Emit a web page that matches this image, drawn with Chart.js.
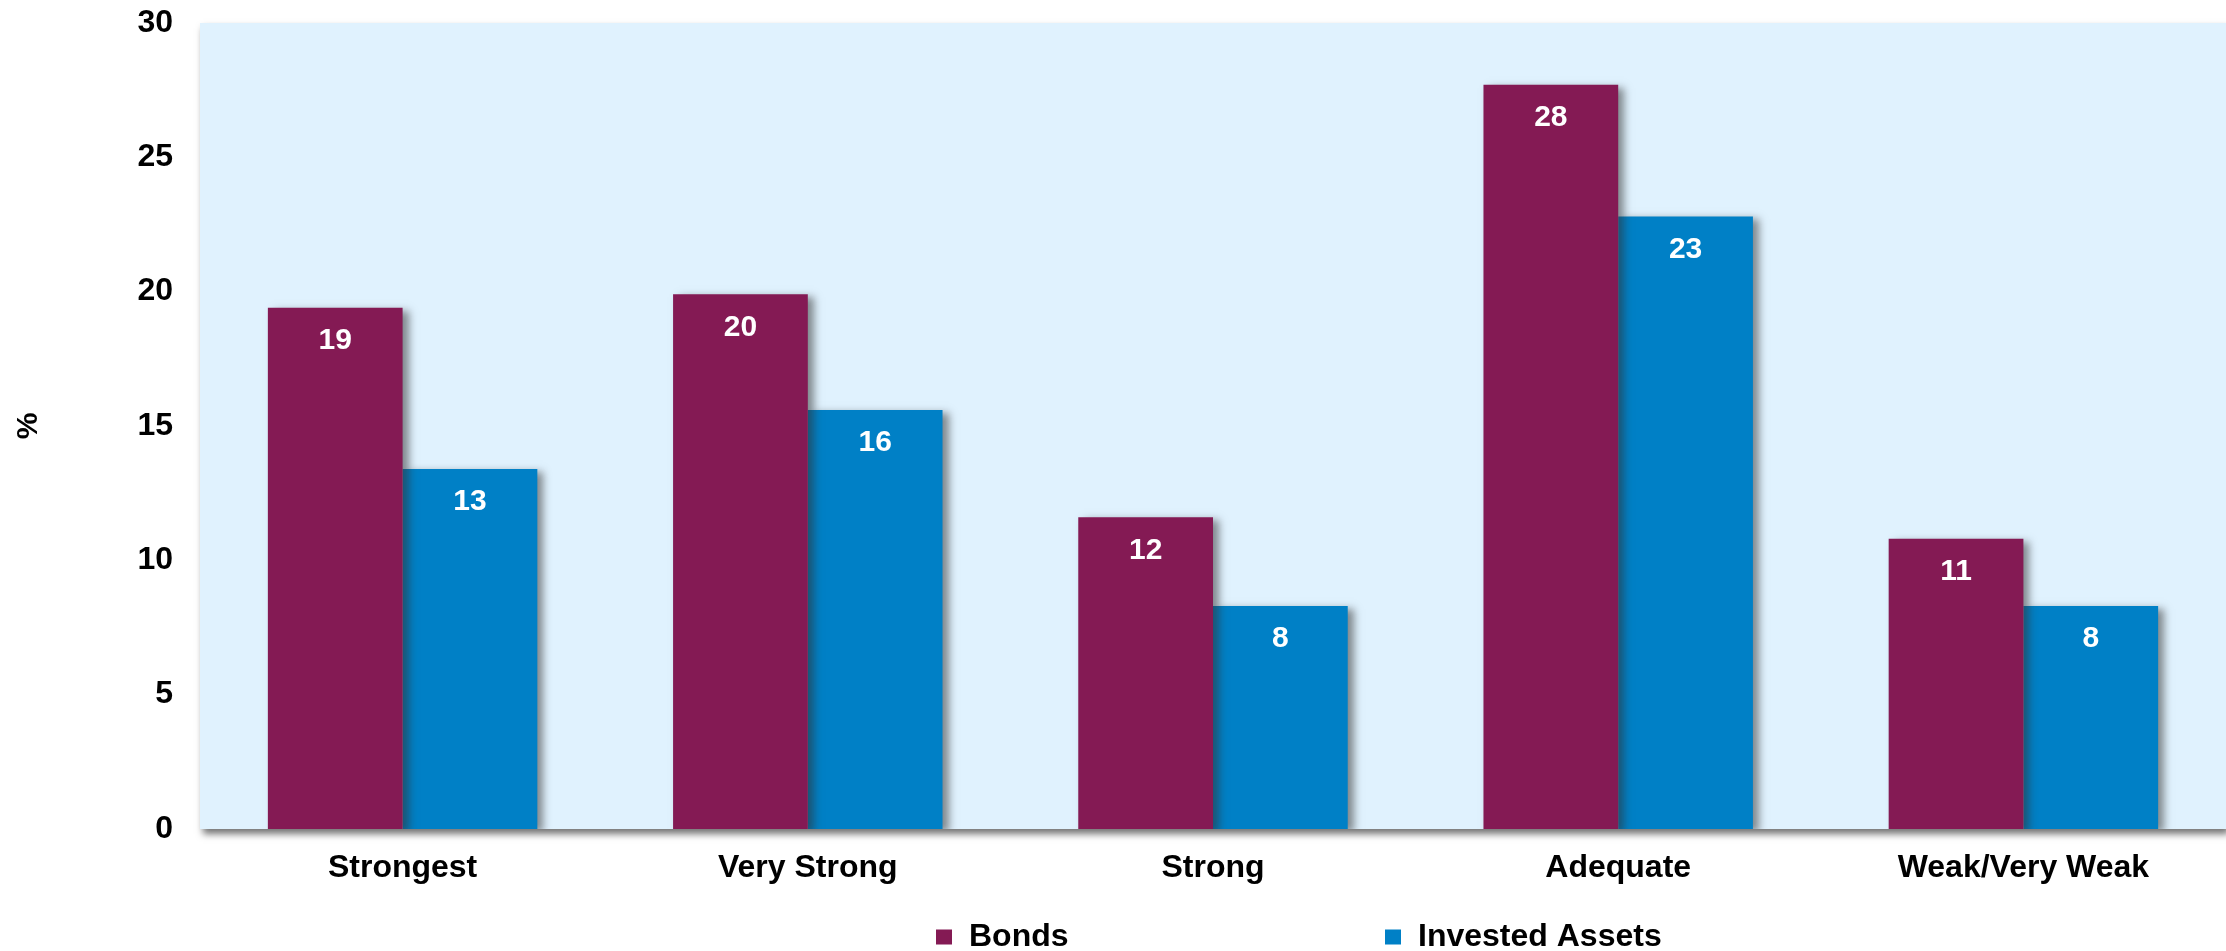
<!DOCTYPE html>
<html lang="en">
<head>
<meta charset="UTF-8">
<title>Bonds vs Invested Assets</title>
<script src="https://cdn.jsdelivr.net/npm/chart.js"></script>
<style>
    html, body { margin: 0; padding: 0; background: #fff; }
    #contenedor { width: 2226px; height: 951px; }
</style>
</head>
<body>
<div id="contenedor"><canvas id="grafico"></canvas></div>
<script>
    // datos
    const categorias = ['Strongest', 'Very Strong', 'Strong', 'Adequate', 'Weak/Very Weak'];
    const bonos = [19.4, 19.9, 11.6, 27.7, 10.8];
    const activos = [13.4, 15.6, 8.3, 22.8, 8.3];
    const ejeYMin = 0;
    const ejeYMax = 30;
    const ejeYPaso = 5;

    const colorBonos = '#841A54';
    const colorActivos = '#0080C6';

    Chart.defaults.font.family = '"Liberation Sans", Arial, sans-serif';
    Chart.defaults.font.weight = 'bold';
    Chart.defaults.color = '#000';

    // fondo celeste del area con sombra abajo
    const fondo = {
        id: 'fondo',
        beforeDraw(chart) {
            const { ctx, chartArea: a } = chart;
            ctx.save();
            ctx.shadowColor = 'rgba(0,0,0,0.55)';
            ctx.shadowOffsetX = 3;
            ctx.shadowOffsetY = 5;
            ctx.shadowBlur = 7;
            ctx.fillStyle = '#E0F2FE';
            ctx.fillRect(a.left, a.top, a.right - a.left, a.bottom - a.top);
            ctx.restore();
        }
    };

    // sombra de las barras + numeros blancos
    const sombraYValores = {
        id: 'sombraYValores',
        beforeDatasetsDraw(chart) {
            const ctx = chart.ctx;
            ctx.save();
            ctx.shadowColor = 'rgba(50,50,50,0.55)';
            ctx.shadowOffsetX = 6;
            ctx.shadowOffsetY = 3;
            ctx.shadowBlur = 8;
        },
        afterDatasetsDraw(chart) {
            const ctx = chart.ctx;
            ctx.restore();
            ctx.save();
            ctx.fillStyle = '#fff';
            ctx.font = 'bold 30px "Liberation Sans", Arial, sans-serif';
            ctx.textAlign = 'center';
            ctx.textBaseline = 'middle';
            chart.data.datasets.forEach((ds, i) => {
                chart.getDatasetMeta(i).data.forEach((barra, j) => {
                    ctx.fillText(Math.round(ds.data[j]), barra.x, barra.y + 33);
                });
            });
            ctx.restore();
        }
    };

    // leyenda abajo
    const leyenda = {
        id: 'leyenda',
        afterDraw(chart, args, opts) {
            const ctx = chart.ctx;
            ctx.save();
            ctx.font = 'bold 32px "Liberation Sans", Arial, sans-serif';
            ctx.textBaseline = 'middle';
            ctx.textAlign = 'left';
            chart.data.datasets.forEach((ds, i) => {
                const x = opts.inicio + i * opts.paso;
                ctx.fillStyle = ds.backgroundColor;
                ctx.fillRect(x, opts.y - 7.5, 16, 15);
                ctx.fillStyle = '#000';
                ctx.fillText(ds.label, x + 33, opts.y);
            });
            ctx.restore();
        }
    };

    const ctx = document.getElementById('grafico').getContext('2d');
    const grafico = new Chart(ctx, {
        type: 'bar',
        data: {
            labels: categorias,
            datasets: [
                { label: 'Bonds', data: bonos, backgroundColor: colorBonos },
                { label: 'Invested Assets', data: activos, backgroundColor: colorActivos }
            ]
        },
        options: {
            responsive: true,
            maintainAspectRatio: false,
            animation: false,
            layout: { padding: { top: 23, left: 0, right: 0, bottom: 0 } },
            datasets: {
                bar: { categoryPercentage: 0.665, barPercentage: 1.0 }
            },
            plugins: {
                legend: { display: false },
                tooltip: { enabled: false },
                leyenda: { inicio: 936, paso: 449, y: 937 }
            },
            scales: {
                x: {
                    grid: { display: false },
                    border: { display: false },
                    ticks: { font: { size: 32, weight: 'bold' }, padding: 12, color: '#000' },
                    afterFit(scale) { scale.height = 122; }
                },
                y: {
                    min: ejeYMin,
                    max: ejeYMax,
                    grid: { display: false, drawTicks: true, tickLength: 27 },
                    border: { display: false },
                    ticks: { stepSize: ejeYPaso, font: { size: 32, weight: 'bold' }, padding: 0, color: '#000' },
                    title: { display: true, text: '%', font: { size: 30, weight: 'bold' }, padding: { top: 11, bottom: 0 }, color: '#000' },
                    afterFit(scale) {
                        scale.width = 200;
                        scale.paddingTop = 0;
                        scale.paddingBottom = 0;
                    }
                }
            }
        },
        plugins: [fondo, sombraYValores, leyenda]
    });
</script>
</body>
</html>
